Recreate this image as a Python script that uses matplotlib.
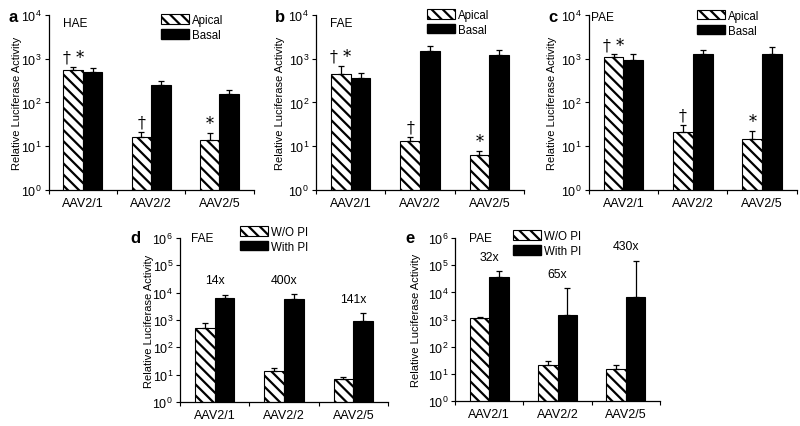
import matplotlib
matplotlib.use("Agg")
import matplotlib.pyplot as plt
from matplotlib.patches import Patch
import numpy as np

plt.rcParams['font.family'] = ['Liberation Sans', 'DejaVu Sans']
plt.rcParams['mathtext.fontset'] = 'custom'
plt.rcParams['mathtext.rm'] = 'Liberation Sans'
plt.rcParams['mathtext.it'] = 'Liberation Sans'
plt.rcParams['hatch.linewidth'] = 1.6

categories = ["AAV2/1", "AAV2/2", "AAV2/5"]

# Panel a (HAE)
a_apical = [550, 16, 14]
a_apical_err = [640, 21, 20]
a_basal = [490, 256, 156]
a_basal_err = [600, 315, 195]
# Panel b (FAE)
b_apical = [450, 13.4, 6.4]
b_apical_err = [690, 16.5, 7.6]
b_basal = [363, 1480, 1240]
b_basal_err = [470, 2000, 1590]
# Panel c (PAE)
c_apical = [1070, 21.5, 15]
c_apical_err = [1250, 31, 22]
c_basal = [930, 1290, 1290]
c_basal_err = [1250, 1590, 1820]
# Panel d (FAE, proteasome inhibitor)
d_wo = [490, 13.7, 6.8]
d_wo_err = [750, 17.7, 8.5]
d_with = [6500, 5900, 920]
d_with_err = [8500, 9000, 1750]
d_fold = ["14x", "400x", "141x"]
# Panel e (PAE, proteasome inhibitor)
e_wo = [1130, 21, 14.8]
e_wo_err = [1200, 30, 21]
e_with = [38000, 1470, 6900]
e_with_err = [60000, 14500, 148000]
e_fold = ["32x", "65x", "430x"]

top_marks = ["\u2020 *", "\u2020", "*"]

HATCH = "\\\\\\"
FS = 8.3      # legend / inset text
TFS = 9.0     # x tick labels
YLFS = 8.0    # y axis label

fig = plt.figure(figsize=(8, 4.27), dpi=100)

def make_axes(rect, top_exp, ylabel_x):
    ax = fig.add_axes(rect)
    ax.set_yscale('log')
    ax.set_ylim(1, 10 ** top_exp)
    ax.set_yticks([10 ** k for k in range(top_exp + 1)])
    ax.set_yticklabels([r"$10^{%d}$" % k for k in range(top_exp + 1)], fontsize=9)
    ax.yaxis.set_minor_locator(matplotlib.ticker.NullLocator())
    ax.tick_params(axis='y', direction='out', length=3, width=0.8, pad=2)
    ax.set_xlim(-0.5, 2.5)
    ax.set_xticks([-0.5, 0.5, 1.5, 2.5])
    ax.set_xticklabels([])
    ax.tick_params(axis='x', which='major', direction='out', length=3, width=0.8)
    ax.set_xticks([0, 1, 2], minor=True)
    ax.set_xticklabels(categories, minor=True, fontsize=TFS)
    ax.tick_params(axis='x', which='minor', length=0, pad=5)
    for s in ['top', 'right']:
        ax.spines[s].set_visible(False)
    for s in ['left', 'bottom']:
        ax.spines[s].set_linewidth(0.9)
    ax.set_ylabel("Relative Luciferase Activity", fontsize=YLFS)
    ax.yaxis.set_label_coords(ylabel_x, 0.5)
    return ax

def draw_bars(ax, v1, e1, v2, e2):
    x = np.arange(len(categories))
    w = 0.285
    ax.bar(x - w / 2, v1, width=w, facecolor='white', edgecolor='black',
           hatch=HATCH, linewidth=0.8)
    ax.bar(x + w / 2, v2, width=w, facecolor='black', edgecolor='black', linewidth=0.8)
    v1 = np.array(v1); v2 = np.array(v2)
    ax.errorbar(x - w / 2, v1, yerr=[np.zeros_like(v1), np.array(e1) - v1],
                fmt='none', ecolor='black', elinewidth=0.9, capsize=2, capthick=0.9)
    ax.errorbar(x + w / 2, v2, yerr=[np.zeros_like(v2), np.array(e2) - v2],
                fmt='none', ecolor='black', elinewidth=0.9, capsize=2, capthick=0.9)
    return x, w

def add_legend(ax, labels, anchor):
    handles = [Patch(facecolor='white', edgecolor='black', hatch=HATCH, linewidth=0.8),
               Patch(facecolor='black', edgecolor='black')]
    ax.legend(handles, labels, loc='upper left', bbox_to_anchor=anchor,
              frameon=False, fontsize=FS, handlelength=2.4, handleheight=0.9,
              handletextpad=0.25, labelspacing=0.25, borderpad=0, borderaxespad=0)

top_row = [
    ("a", "HAE", [0.061, 0.5527, 0.256, 0.41], a_apical, a_apical_err, a_basal, a_basal_err, -0.13, 0.07, 0.955, (0.55, 1.005)),
    ("b", "FAE", [0.395, 0.5527, 0.26, 0.41], b_apical, b_apical_err, b_basal, b_basal_err, -0.149, 0.067, 0.955, (0.535, 1.035)),
    ("c", "PAE", [0.736, 0.5527, 0.26, 0.41], c_apical, c_apical_err, c_basal, c_basal_err, -0.154, 0.012, 0.99, (0.52, 1.03)),
]

for letter, name, rect, v1, e1, v2, e2, ylx, namex, namey, leg_anchor in top_row:
    ax = make_axes(rect, 4, ylx)
    x, w = draw_bars(ax, v1, e1, v2, e2)
    for i, m in enumerate(top_marks):
        ax.annotate(m, (x[i] - w / 2, e1[i]), xytext=(0, 1), textcoords='offset points',
                    ha='center', va='bottom', fontsize=11.5,
                    family=['DejaVu Serif'])
    ax.text(namex, namey, name, transform=ax.transAxes, fontsize=FS + 0.3, va='center', ha='left')
    add_legend(ax, ["Apical", "Basal"], leg_anchor)
    fig.text(rect[0] - 0.051, rect[1] + rect[3] - 0.003, letter, fontsize=12,
             fontweight='bold', va='center', ha='left')

bottom_row = [
    ("d", "FAE", [0.225, 0.0562, 0.26, 0.384], d_wo, d_wo_err, d_with, d_with_err, d_fold, -0.125, 0.055, (0.29, 1.075)),
    ("e", "PAE", [0.569, 0.0585, 0.256, 0.3815], e_wo, e_wo_err, e_with, e_with_err, e_fold, -0.166, 0.065, (0.283, 1.05)),
]

for letter, name, rect, v1, e1, v2, e2, folds, ylx, namex, leg_anchor in bottom_row:
    ax = make_axes(rect, 6, ylx)
    x, w = draw_bars(ax, v1, e1, v2, e2)
    for i, f in enumerate(folds):
        ax.annotate(f, (x[i], e2[i]), xytext=(0, 6), textcoords='offset points',
                    ha='center', va='bottom', fontsize=FS + 0.5)
    ax.text(namex, 1.0, name, transform=ax.transAxes, fontsize=FS + 0.3, va='center', ha='left')
    add_legend(ax, ["W/O PI", "With PI"], leg_anchor)
    fig.text(rect[0] - 0.062, rect[1] + rect[3] + 0.002, letter, fontsize=12,
             fontweight='bold', va='center', ha='left')

fig.savefig("out.png", dpi=100)
